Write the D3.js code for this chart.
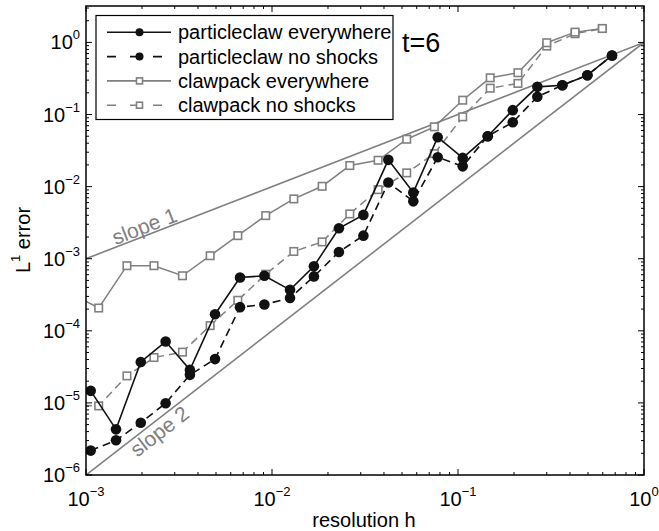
<!DOCTYPE html>
<html>
<head>
<meta charset="utf-8">
<script src="https://cdn.jsdelivr.net/npm/d3@7"></script>
<style>
  body { margin: 0; background: #fff; }
  svg { display: block; font-family: "Liberation Sans", Arial, sans-serif; }
</style>
</head>
<body>
<svg id="chart" width="659" height="531"></svg>
<script>
// resolution h values for each code
const hParticle = [0.00106, 0.00145, 0.00197, 0.00268, 0.00362, 0.00494, 0.00673, 0.0091, 0.0125, 0.0168, 0.0229,
  0.031, 0.0422, 0.0575, 0.0778, 0.106, 0.1445, 0.197, 0.267, 0.364, 0.496, 0.673];
const hClaw = [0.000829, 0.00117, 0.00166, 0.00232, 0.0033, 0.00465, 0.00655, 0.00925, 0.0131, 0.0186,
  0.0262, 0.0372, 0.053, 0.0746, 0.106, 0.149, 0.21, 0.30, 0.426, 0.597];

// L1 errors
const particleEverywhere = [1.47e-5, 4.3e-6, 3.7e-5, 7.1e-5, 2.87e-5, 1.7e-4, 5.5e-4, 5.8e-4, 3.7e-4, 7.85e-4, 2.64e-3,
  4.05e-3, 2.35e-2, 8.3e-3, 4.84e-2, 2.5e-2, 5.0e-2, 0.115, 0.242, 0.255, 0.35, 0.66];
const particleNoShocks = [2.18e-6, 3.03e-6, 5.3e-6, 9.9e-6, 2.45e-5, 4.05e-5, 2.13e-4, 2.32e-4, 2.85e-4, 5.68e-4, 1.24e-3,
  2.09e-3, 1.14e-2, 6.25e-3, 2.55e-2, 1.91e-2, 5.0e-2, 7.8e-2, 0.176, 0.255, 0.35, 0.66];
const clawEverywhere = [3.3e-4, 2.07e-4, 8.0e-4, 8.0e-4, 5.8e-4, 1.1e-3, 2.09e-3, 3.96e-3, 6.75e-3, 1.01e-2,
  1.96e-2, 2.32e-2, 4.54e-2, 6.75e-2, 0.158, 0.323, 0.38, 0.99, 1.39, 1.56];
const clawNoShocks = [9.3e-6, 9.08e-6, 2.37e-5, 4.26e-5, 5.06e-5, 1.18e-4, 2.65e-4, 6.09e-4, 1.26e-3, 1.71e-3,
  4.18e-3, 9.08e-3, 1.55e-2, 2.87e-2, 9.29e-2, 0.232, 0.27, 0.89, 1.32, 1.56];

// reference slope lines [h, error]
const slope1 = [[1e-3, 1e-3], [1, 1]];
const slope2 = [[1e-3, 1e-6], [1, 1]];

const xTicks = [1e-3, 1e-2, 1e-1, 1e0];
const yTicks = [1e-6, 1e-5, 1e-4, 1e-3, 1e-2, 1e-1, 1e0];

const GRAY = "#808080";
const BLACK = "#111";

const width = 659, height = 531;
const margin = { top: 6, right: 15, bottom: 56, left: 86 };

const svg = d3.select("#chart");

const x = d3.scaleLog().domain([1e-3, 1]).range([margin.left, width - margin.right]);
const y = d3.scaleLog().domain([1e-6, 3.2]).range([height - margin.bottom, margin.top]);

svg.append("defs").append("clipPath").attr("id", "clip")
  .append("rect")
  .attr("x", margin.left).attr("y", margin.top)
  .attr("width", width - margin.left - margin.right)
  .attr("height", height - margin.top - margin.bottom);

const line = d3.line().x(d => x(d[0])).y(d => y(d[1]));

const series = [
  { name: "particleclaw everywhere", h: hParticle, e: particleEverywhere, color: BLACK, dash: null, marker: "circle" },
  { name: "particleclaw no shocks", h: hParticle, e: particleNoShocks, color: BLACK, dash: "8,5", marker: "circle" },
  { name: "clawpack everywhere", h: hClaw, e: clawEverywhere, color: GRAY, dash: null, marker: "square" },
  { name: "clawpack no shocks", h: hClaw, e: clawNoShocks, color: GRAY, dash: "8,5", marker: "square" }
];

const plot = svg.append("g").attr("clip-path", "url(#clip)");

// slope reference lines
[slope1, slope2].forEach(s => {
  plot.append("path")
    .attr("d", line(s))
    .attr("fill", "none")
    .attr("stroke", GRAY)
    .attr("stroke-width", 1.6);
});

function drawMarker(g, type, color, cx, cy, small) {
  if (type === "circle") {
    g.append("circle").attr("cx", cx).attr("cy", cy).attr("r", small ? 4 : 5.3).attr("fill", color);
  } else {
    const s = small ? 6 : 7.5;
    g.append("rect").attr("x", cx - s / 2).attr("y", cy - s / 2).attr("width", s).attr("height", s)
      .attr("fill", "#fff").attr("stroke", color).attr("stroke-width", 1.6);
  }
}

// draw gray first, then black on top
[series[3], series[2], series[1], series[0]].forEach(s => {
  const pts = s.h.map((h, i) => [h, s.e[i]]);
  plot.append("path")
    .attr("d", line(pts))
    .attr("fill", "none")
    .attr("stroke", s.color)
    .attr("stroke-width", s.color === BLACK ? 1.6 : 1.5)
    .attr("stroke-dasharray", s.dash);
  const mg = plot.append("g");
  pts.forEach(p => drawMarker(mg, s.marker, s.color, x(p[0]), y(p[1]), false));
});

// axes box and ticks (inward, all four sides)
const axes = svg.append("g").attr("stroke", "#000").attr("stroke-width", 1);
const x0 = margin.left, x1 = width - margin.right, y0 = height - margin.bottom, y1 = margin.top;

function minorTicks(domain) {
  const out = [];
  const lo = Math.floor(Math.log10(domain[0])), hi = Math.ceil(Math.log10(domain[1]));
  for (let p = lo; p <= hi; p++) {
    for (let m = 2; m <= 9; m++) {
      const v = m * Math.pow(10, p);
      if (v > domain[0] && v < domain[1]) out.push(v);
    }
  }
  return out;
}

minorTicks(x.domain()).forEach(v => {
  axes.append("line").attr("x1", x(v)).attr("x2", x(v)).attr("y1", y0).attr("y2", y0 - 3);
  axes.append("line").attr("x1", x(v)).attr("x2", x(v)).attr("y1", y1).attr("y2", y1 + 3);
});
xTicks.forEach(v => {
  axes.append("line").attr("x1", x(v)).attr("x2", x(v)).attr("y1", y0).attr("y2", y0 - 6);
  axes.append("line").attr("x1", x(v)).attr("x2", x(v)).attr("y1", y1).attr("y2", y1 + 6);
});
minorTicks(y.domain()).forEach(v => {
  axes.append("line").attr("x1", x0).attr("x2", x0 + 3).attr("y1", y(v)).attr("y2", y(v));
  axes.append("line").attr("x1", x1).attr("x2", x1 - 3).attr("y1", y(v)).attr("y2", y(v));
});
yTicks.forEach(v => {
  axes.append("line").attr("x1", x0).attr("x2", x0 + 6).attr("y1", y(v)).attr("y2", y(v));
  axes.append("line").attr("x1", x1).attr("x2", x1 - 6).attr("y1", y(v)).attr("y2", y(v));
});
svg.append("rect")
  .attr("x", x0).attr("y", y1).attr("width", x1 - x0).attr("height", y0 - y1)
  .attr("fill", "none").attr("stroke", "#000").attr("stroke-width", 1.5);

// tick labels 10^k
const expOf = v => Math.round(Math.log10(v));
const supText = k => (k < 0 ? "\u2212" + (-k) : String(k));

xTicks.forEach(v => {
  const t = svg.append("text")
    .attr("x", x(v)).attr("y", 506)
    .attr("text-anchor", "middle")
    .attr("font-size", 20).attr("fill", "#000");
  t.append("tspan").text("10");
  t.append("tspan").attr("dy", -10).attr("font-size", 13).text(supText(expOf(v)));
});

yTicks.forEach(v => {
  const t = svg.append("text")
    .attr("x", 80).attr("y", y(v) + 7)
    .attr("text-anchor", "end")
    .attr("font-size", 20).attr("fill", "#000");
  t.append("tspan").text("10");
  t.append("tspan").attr("dy", -10).attr("font-size", 13).text(supText(expOf(v)));
});

// axis titles
svg.append("text")
  .attr("x", 364).attr("y", 527)
  .attr("text-anchor", "middle").attr("font-size", 20)
  .text("resolution h");

const yl = svg.append("text")
  .attr("transform", "translate(30,240) rotate(-90)")
  .attr("text-anchor", "middle").attr("font-size", 20);
yl.append("tspan").text("L");
yl.append("tspan").attr("dy", -10).attr("font-size", 13).text("1");
yl.append("tspan").attr("dy", 10).text(" error");

// slope labels
svg.append("text")
  .attr("transform", "translate(147,233) rotate(-21.2)")
  .attr("text-anchor", "middle").attr("font-size", 21).attr("fill", GRAY)
  .text("slope 1");
svg.append("text")
  .attr("transform", "translate(164,437) rotate(-37.7)")
  .attr("text-anchor", "middle").attr("font-size", 21).attr("fill", GRAY)
  .text("slope 2");

// t=6
svg.append("text")
  .attr("x", 402).attr("y", 52)
  .attr("font-size", 27)
  .text("t=6");

// legend
const lg = svg.append("g");
lg.append("rect")
  .attr("x", 96).attr("y", 15.5).attr("width", 297).attr("height", 104)
  .attr("fill", "#fff").attr("stroke", "#000").attr("stroke-width", 1.2);
series.forEach((s, i) => {
  const cy = 32.3 + i * 24.3;
  lg.append("line")
    .attr("x1", 107).attr("x2", 171).attr("y1", cy).attr("y2", cy)
    .attr("stroke", s.color).attr("stroke-width", 1.6)
    .attr("stroke-dasharray", s.dash ? "9,14" : null);
  drawMarker(lg, s.marker, s.color, 139.5, cy, true);
  lg.append("text")
    .attr("x", 178).attr("y", cy + 7)
    .attr("font-size", 20)
    .text(s.name);
});
</script>
</body>
</html>
